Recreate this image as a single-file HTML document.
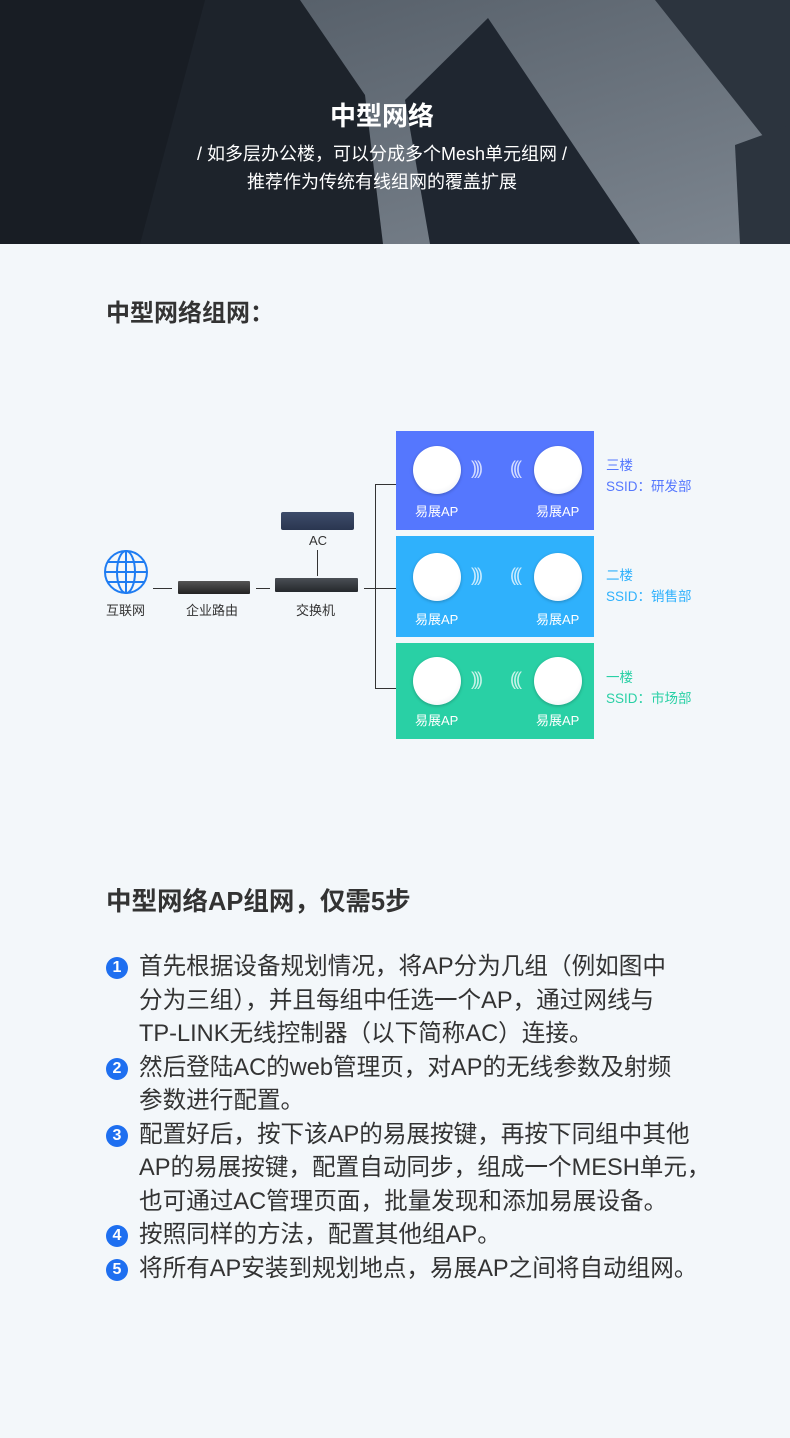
<!DOCTYPE html>
<html><head><meta charset="utf-8"><style>
*{margin:0;padding:0;box-sizing:border-box}
body{width:790px;height:1438px;background:#f3f7fa;font-family:"Liberation Sans","Noto Sans CJK SC",sans-serif;position:relative;overflow:hidden;color:#333}
.a{position:absolute;white-space:nowrap}
.box{position:absolute;left:396px;width:198px}
.ap{position:absolute;width:48px;height:48px;border-radius:50%;background:radial-gradient(circle at 45% 40%,#fff 60%,#e6e9ee 100%);box-shadow:0 1px 3px rgba(0,0,0,.25)}
.al{position:absolute;color:#fff;font-size:13px}
.w{position:absolute;color:rgba(255,255,255,.75);font-size:18px;letter-spacing:-3px}
.side{position:absolute;left:606px;font-size:13.5px;line-height:21px}
.ln{position:absolute;background:#333}
.st{position:absolute;left:106px;font-size:23.6px;line-height:33.5px;color:#333}
.n{display:inline-block;width:22px;height:22px;border-radius:50%;background:#1e6ff0;color:#fff;font-size:16px;line-height:22px;text-align:center;font-weight:bold;vertical-align:2px;margin-right:11px}
.ind{padding-left:33px}
.hd{position:absolute;left:-13px;width:790px;text-align:center;color:#fff;white-space:nowrap}
</style></head><body>
<svg class="a" style="left:0;top:0" width="790" height="244" viewBox="0 0 790 244">
<defs><linearGradient id="sky" x1="0" y1="0" x2="1" y2="1"><stop offset="0" stop-color="#4f5862"/><stop offset="1" stop-color="#7d8690"/></linearGradient></defs>
<rect width="790" height="244" fill="url(#sky)"/>
<polygon points="0,0 300,0 365,95 383,244 0,244" fill="#1d232b"/>
<polygon points="0,0 205,0 140,244 0,244" fill="#181d24"/>
<polygon points="405,100 488,18 640,244 430,244" fill="#1f2630"/>
<polygon points="655,0 790,0 790,170" fill="#2c343e"/>
<polygon points="735,145 790,125 790,244 740,244" fill="#2c343e"/>
</svg>
<div class="hd" style="top:96px;font-size:26px;font-weight:bold">中型网络</div>
<div class="hd" style="top:140px;font-size:18px">/ 如多层办公楼，可以分成多个Mesh单元组网 /</div>
<div class="hd" style="top:168px;font-size:18px">推荐作为传统有线组网的覆盖扩展</div>

<div class="a" style="left:106px;top:293px;font-size:24px;font-weight:bold;color:#333">中型网络组网：</div>

<svg class="a" style="left:104px;top:550px" width="46" height="46" viewBox="0 0 46 46" fill="none" stroke="#1e7cf2" stroke-width="2"><circle cx="22" cy="22" r="21"/><ellipse cx="22" cy="22" rx="9" ry="21"/><line x1="22" y1="1" x2="22" y2="43"/><line x1="1" y1="22" x2="43" y2="22"/><path d="M4 12 H40 M4 32 H40"/></svg>
<div class="a" style="left:106px;top:600px;font-size:13px">互联网</div>
<div class="ln" style="left:153px;top:588px;width:19px;height:1px"></div>
<div class="a" style="left:178px;top:581px;width:72px;height:13px;background:linear-gradient(#555,#222);border-radius:1px"></div>
<div class="a" style="left:186px;top:600px;font-size:13px">企业路由</div>
<div class="ln" style="left:256px;top:588px;width:14px;height:1px"></div>
<div class="a" style="left:275px;top:578px;width:83px;height:14px;background:linear-gradient(#4a4f55,#25282c);border-radius:1px"></div>
<div class="a" style="left:296px;top:600px;font-size:13px">交换机</div>
<div class="a" style="left:281px;top:512px;width:73px;height:18px;background:linear-gradient(#3d4c6a,#2a3650);border-radius:2px"></div>
<div class="a" style="left:309px;top:533px;font-size:13px">AC</div>
<div class="ln" style="left:317px;top:550px;width:1px;height:26px"></div>
<div class="ln" style="left:364px;top:588px;width:12px;height:1px"></div>
<div class="ln" style="left:375px;top:484px;width:1px;height:205px"></div>
<div class="ln" style="left:375px;top:484px;width:21px;height:1px"></div>
<div class="ln" style="left:375px;top:588px;width:21px;height:1px"></div>
<div class="ln" style="left:375px;top:688px;width:21px;height:1px"></div>

<div class="box" style="top:431px;height:99px;background:#5577fe">
<div class="ap" style="left:17px;top:15px"></div><div class="ap" style="left:138px;top:15px"></div>
<div class="w" style="left:75px;top:27px">)))</div><div class="w" style="left:114px;top:27px">(((</div>
<div class="al" style="left:19px;top:70px">易展AP</div><div class="al" style="left:140px;top:70px">易展AP</div></div>
<div class="box" style="top:536px;height:101px;background:#2fb1fc">
<div class="ap" style="left:17px;top:17px"></div><div class="ap" style="left:138px;top:17px"></div>
<div class="w" style="left:75px;top:29px">)))</div><div class="w" style="left:114px;top:29px">(((</div>
<div class="al" style="left:19px;top:73px">易展AP</div><div class="al" style="left:140px;top:73px">易展AP</div></div>
<div class="box" style="top:643px;height:96px;background:#29d0a5">
<div class="ap" style="left:17px;top:14px"></div><div class="ap" style="left:138px;top:14px"></div>
<div class="w" style="left:75px;top:26px">)))</div><div class="w" style="left:114px;top:26px">(((</div>
<div class="al" style="left:19px;top:67px">易展AP</div><div class="al" style="left:140px;top:67px">易展AP</div></div>
<div class="side" style="top:455px;color:#5577fe">三楼<br>SSID：研发部</div>
<div class="side" style="top:565px;color:#2fb1fc">二楼<br>SSID：销售部</div>
<div class="side" style="top:667px;color:#29d0a5">一楼<br>SSID：市场部</div>

<div class="a" style="left:106px;top:881px;font-size:25.5px;font-weight:bold;color:#333">中型网络AP组网，仅需5步</div>
<div class="st" style="top:951px">
<div><span class="n">1</span>首先根据设备规划情况，将AP分为几组（例如图中</div>
<div class="ind">分为三组），并且每组中任选一个AP，通过网线与</div>
<div class="ind">TP-LINK无线控制器（以下简称AC）连接。</div>
<div><span class="n">2</span>然后登陆AC的web管理页，对AP的无线参数及射频</div>
<div class="ind">参数进行配置。</div>
<div><span class="n">3</span>配置好后，按下该AP的易展按键，再按下同组中其他</div>
<div class="ind">AP的易展按键，配置自动同步，组成一个MESH单元，</div>
<div class="ind">也可通过AC管理页面，批量发现和添加易展设备。</div>
<div><span class="n">4</span>按照同样的方法，配置其他组AP。</div>
<div><span class="n">5</span>将所有AP安装到规划地点，易展AP之间将自动组网。</div>
</div>
</body></html>
